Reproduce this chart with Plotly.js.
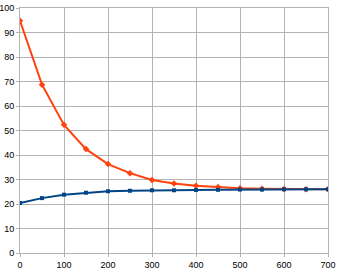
<!DOCTYPE html>
<html><head><meta charset="utf-8">
<script src="https://cdn.plot.ly/plotly-3.0.1.min.js"></script>
<style>html,body{margin:0;padding:0;background:#fff}#chart{width:341px;height:272px}</style>
</head><body><div id="chart"></div>
<script>
const xValues = [0, 50, 100, 150, 200, 250, 300, 350, 400, 450, 500, 550, 600, 650, 700];
const redSeries = [94.8, 68.7, 52.3, 42.4, 36.3, 32.6, 29.8, 28.4, 27.5, 26.9, 26.4, 26.2, 26.1, 26.0, 26.0];
const blueSeries = [20.4, 22.4, 23.8, 24.6, 25.2, 25.4, 25.6, 25.6, 25.7, 25.8, 25.9, 25.9, 26.0, 26.0, 26.0];
const xTicks = [0, 100, 200, 300, 400, 500, 600, 700];
const yTicks = [0, 10, 20, 30, 40, 50, 60, 70, 80, 90, 100];

const traces = [
  {x: xValues, y: redSeries, type: 'scatter', mode: 'lines+markers',
   line: {color: '#ff420e', width: 2}, marker: {symbol: 'diamond', size: 5, color: '#ff420e'}},
  {x: xValues, y: blueSeries, type: 'scatter', mode: 'lines+markers',
   line: {color: '#004586', width: 2}, marker: {symbol: 'square', size: 4, color: '#004586'}}
];
const axisCommon = {
  showgrid: true, gridcolor: '#b3b3b3', gridwidth: 1,
  showline: true, linecolor: '#b3b3b3', linewidth: 1,
  ticks: 'outside', ticklen: 3, tickcolor: '#b3b3b3',
  zeroline: false, tickfont: {family: 'Liberation Sans, Arial, sans-serif', size: 9, color: '#000'}
};
const layout = {
  width: 341, height: 272,
  margin: {l: 20, r: 13, t: 8, b: 19},
  paper_bgcolor: '#fff', plot_bgcolor: '#fff',
  showlegend: false,
  xaxis: Object.assign({}, axisCommon, {range: [0, 700], tickvals: xTicks, ticktext: xTicks.map(String), mirror: true}),
  yaxis: Object.assign({}, axisCommon, {range: [0, 100], tickvals: yTicks, ticktext: yTicks.map(String), mirror: true})
};
Plotly.newPlot('chart', traces, layout, {staticPlot: true, displayModeBar: false});
</script></body></html>
